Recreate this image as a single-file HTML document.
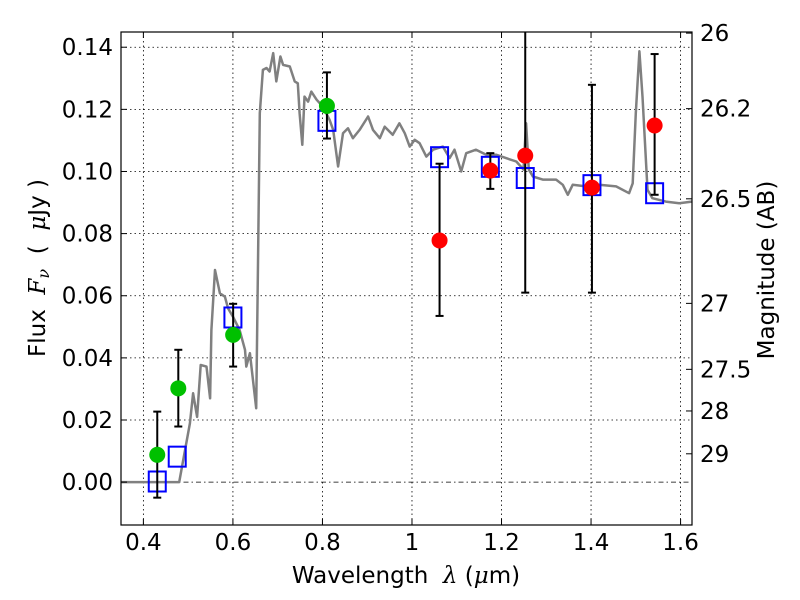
<!DOCTYPE html>
<html><head><meta charset="utf-8"><style>
body{margin:0;background:#fff;}
svg{display:block;font-family:"DejaVu Sans","Liberation Sans",sans-serif;}
</style></head><body>
<svg id="chart" width="800" height="600" viewBox="0 0 800 600" xmlns="http://www.w3.org/2000/svg">
<g id="grid"></g>
<g id="spec"></g>
<g id="marks"></g>
<rect x="121" y="32" width="571" height="493" fill="none" stroke="#000" stroke-width="1.2"/>
<g id="axes" font-size="23"></g>
<text x="406" y="583" font-size="23" text-anchor="middle" xml:space="preserve">Wavelength  <tspan font-style="italic" font-family="DejaVu Serif, serif">λ</tspan> (<tspan font-style="italic" font-family="DejaVu Serif, serif">μ</tspan>m)</text>
<text transform="translate(45,268) rotate(-90)" font-size="23" text-anchor="middle" xml:space="preserve">Flux  <tspan font-style="italic" font-family="DejaVu Serif, serif">F</tspan><tspan font-style="italic" font-family="DejaVu Serif, serif" font-size="16" dy="4">ν</tspan><tspan dy="-4">  (  </tspan><tspan font-style="italic" font-family="DejaVu Serif, serif">μ</tspan>Jy )</text>
<text transform="translate(774,270) rotate(-90)" font-size="23" text-anchor="middle">Magnitude (AB)</text>
</svg>
<script>
const xTicks=[0.4,0.6,0.8,1.0,1.2,1.4,1.6];
const xTickLabels=["0.4","0.6","0.8","1","1.2","1.4","1.6"];
const yTicks=[0,0.02,0.04,0.06,0.08,0.1,0.12,0.14];
const yTickLabels=["0.00","0.02","0.04","0.06","0.08","0.10","0.12","0.14"];
const magTicks=[26,26.2,26.5,27,27.5,28,29];
const magTickLabels=["26","26.2","26.5","27","27.5","28","29"];
const specWave=[0.35,0.48,0.504,0.511,0.52,0.528,0.541,0.549,0.552,0.56,0.571,0.582,0.589,0.6,0.615,0.627,0.63,0.638,0.652,0.656,0.66,0.667,0.675,0.682,0.69,0.697,0.706,0.712,0.727,0.738,0.745,0.749,0.755,0.76,0.768,0.775,0.787,0.801,0.816,0.824,0.835,0.846,0.857,0.868,0.883,0.902,0.913,0.928,0.939,0.957,0.972,0.984,0.995,1.006,1.017,1.032,1.047,1.069,1.084,1.095,1.11,1.121,1.143,1.166,1.188,1.21,1.233,1.249,1.255,1.261,1.27,1.292,1.322,1.337,1.348,1.359,1.389,1.418,1.456,1.485,1.493,1.5,1.508,1.515,1.526,1.537,1.567,1.597,1.625];
const specFlux=[0,0,0.0189,0.0286,0.021,0.0377,0.0372,0.027,0.049,0.0683,0.0608,0.0597,0.056,0.0533,0.049,0.0426,0.0372,0.0415,0.0238,0.0705,0.1188,0.1327,0.1333,0.1322,0.1381,0.129,0.137,0.1343,0.1338,0.129,0.1284,0.1188,0.1086,0.1241,0.1225,0.1257,0.1231,0.1209,0.1166,0.1134,0.1016,0.1123,0.1139,0.1107,0.1134,0.1177,0.1134,0.1107,0.1144,0.1118,0.1155,0.1123,0.108,0.1102,0.1091,0.1048,0.107,0.108,0.1043,0.107,0.1,0.1059,0.107,0.1054,0.1054,0.1043,0.1032,0.1006,0.1155,0.1006,0.0984,0.0974,0.0974,0.0957,0.0925,0.0957,0.0952,0.0957,0.0952,0.093,0.0962,0.1188,0.1387,0.1241,0.0941,0.0914,0.0903,0.0898,0.0903];
const greenWave=[0.431,0.478,0.6005,0.81];
const greenFlux=[0.0088,0.0302,0.0474,0.1211];
const greenHi=[0.0227,0.0426,0.0574,0.1319];
const greenLo=[-0.005,0.0179,0.0372,0.1106];
const redWave=[1.0616,1.175,1.253,1.402,1.542];
const redFlux=[0.0778,0.1003,0.1051,0.0948,0.1148];
const redHi=[0.1025,0.1059,0.17,0.1279,0.1378];
const redLo=[0.0535,0.0944,0.061,0.061,0.0925];
const modelWave=[0.431,0.4756,0.6,0.81,1.0616,1.175,1.253,1.402,1.542];
const modelFlux=[0.0002,0.0082,0.053,0.1163,0.1046,0.1015,0.0979,0.0956,0.093];

const L=121,R=692,T=32,B=525,X0=0.35,X1=1.6255,Y0=-0.0138,Y1=0.1449;
const sx=v=>L+(v-X0)/(X1-X0)*(R-L);
const sy=v=>B-(v-Y0)/(Y1-Y0)*(B-T);
const magToFlux=m=>Math.pow(10,(23.9-m)/2.5);
const NS="http://www.w3.org/2000/svg";
function mk(tag,attrs,parent){const e=document.createElementNS(NS,tag);for(const k in attrs)e.setAttribute(k,attrs[k]);parent.appendChild(e);return e;}
const grid=document.getElementById('grid'),axes=document.getElementById('axes'),spec=document.getElementById('spec'),marks=document.getElementById('marks');
xTicks.forEach((t,i)=>{const x=sx(t);
 let g=mk('line',{x1:x,x2:x,y1:T,y2:B,stroke:'#000','stroke-width':0.8,'stroke-dasharray':'1.5,3'},grid);
 
 mk('line',{x1:x,x2:x,y1:B,y2:B-6,stroke:'#000'},axes);mk('line',{x1:x,x2:x,y1:T,y2:T+6,stroke:'#000'},axes);
 let tx=mk('text',{x:x,y:B+25,'text-anchor':'middle'},axes);tx.textContent=xTickLabels[i];
 });
yTicks.forEach((t,i)=>{const y=sy(t);
 let g=mk('line',{x1:L,x2:R,y1:y,y2:y,stroke:'#000','stroke-width':0.8,'stroke-dasharray':t===0?'5,3,1.5,3':'1.5,3'},grid);
 
 mk('line',{x1:L,x2:L+6,y1:y,y2:y,stroke:'#000'},axes);
 let tx=mk('text',{x:L-8,y:y+8,'text-anchor':'end'},axes);tx.textContent=yTickLabels[i];
 });
magTicks.forEach((m,i)=>{const y=sy(magToFlux(m));
 mk('line',{x1:R,x2:R-6,y1:y,y2:y,stroke:'#000'},axes);
 let tx=mk('text',{x:R+8,y:y+8,'text-anchor':'start'},axes);tx.textContent=magTickLabels[i];
 });
const pts=specWave.map((w,i)=>sx(w).toFixed(1)+','+sy(specFlux[i]).toFixed(1)).join(' ');
let pl=mk('polyline',{points:pts,fill:'none',stroke:'#808080','stroke-width':2.5,'stroke-linejoin':'round'},spec);

function errbar(x,lo,hi){const X=sx(x),a=Math.max(sy(hi),T),b=sy(lo);
 let g=mk('g',{stroke:'#000','stroke-width':2},marks);
 
 mk('line',{x1:X,x2:X,y1:a,y2:b},g);
 if(sy(hi)>=T)mk('line',{x1:X-4,x2:X+4,y1:a,y2:a},g);
 mk('line',{x1:X-4,x2:X+4,y1:b,y2:b},g);}
modelWave.forEach((w,i)=>{let r=mk('rect',{x:sx(w)-8.5,y:sy(modelFlux[i])-10,width:17,height:20,fill:'none',stroke:'#0000ff','stroke-width':2},marks);
 });
greenWave.forEach((w,i)=>{errbar(w,greenLo[i],greenHi[i]);
 let c=mk('circle',{cx:sx(w),cy:sy(greenFlux[i]),r:8,fill:'#00c000'},marks);
 });
redWave.forEach((w,i)=>{errbar(w,redLo[i],redHi[i]);
 let c=mk('circle',{cx:sx(w),cy:sy(redFlux[i]),r:8,fill:'#ff0000'},marks);
 });
</script>
</body></html>
